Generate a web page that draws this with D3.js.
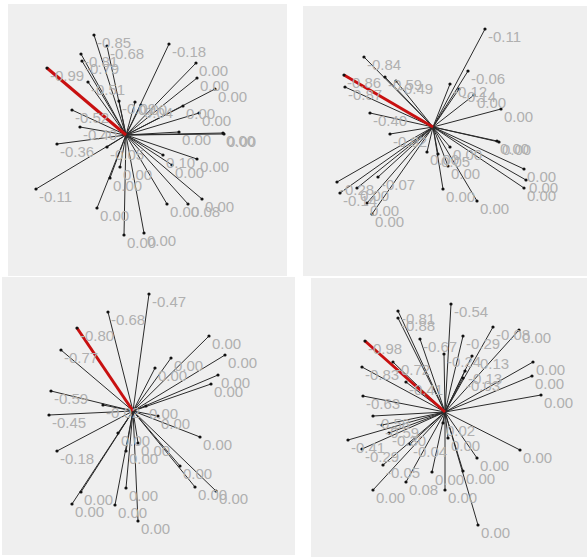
<!DOCTYPE html>
<html lang="en">
<head>
  <meta charset="utf-8">
  <title>Loading stars</title>
  <script src="https://d3js.org/d3.v7.min.js"></script>
  <style type="text/css">
    body { margin: 0; background: #fff; }
    svg text { font-family: "Liberation Sans", Arial, sans-serif; font-size: 15px; fill: #b0b0b0; }
  </style>
</head>
<body>
  <svg width="587" height="557"></svg>

  <script type="text/javascript" charset="utf-8">
    // panel 1 (top left) - first entry is the highlighted one
    var p1x = [-0.79, -0.32, -0.19, 0.43, -0.45, -0.44, -0.38, -0.54, -0.46, -0.69, -0.90, 0.70, 0.71, 0.89, 0.73, 0.57, 0.53, 0.97, 0.98, 0.76, 0.62, 0.41, 0.18, -0.02, -0.29, 0.37, 0.71, 0.46, -0.16, -0.06, 0.09, -0.07, 0.15, -0.19];
    var p1y = [0.67, 1.00, 0.89, 0.91, 0.81, 0.74, 0.53, 0.25, 0.08, -0.09, -0.54, 0.72, 0.57, 0.46, 0.22, 0.29, 0.03, 0.02, 0.01, -0.64, -0.69, -0.69, -0.98, -1.00, -0.73, -0.20, -0.24, -0.30, -0.43, -0.32, 0.33, 0.34, 0.30, -0.12];
    var p1lab = ["-0.99", "-0.85", "-0.68", "-0.18", "-0.81", "-0.79", "-0.51", "-0.52", "-0.40", "-0.36", "-0.11", "0.00", "0.00", "0.00", "0.00", "0.00", "0.00", "0.00", "0.00", "0.00", "0.08", "0.00", "0.00", "0.00", "0.00", "0.10", "0.00", "0.00", "0.00", "0.00", "0.00", "-0.09", "0.04", "-0.05"];

    // panel 2 (top right)
    var p2x = [-0.89, -0.69, -0.48, -0.37, -0.88, -0.63, -0.43, -0.96, -0.93, -0.76, -0.66, -0.61, -0.55, 0.52, 0.35, 0.17, 0.41, 0.26, 0.68, 0.64, 0.66, 0.91, 0.93, 0.91, 0.44, 0.10, 0.15, -0.06, 0.17, 0.05];
    var p2y = [0.52, 0.70, 0.50, 0.46, 0.40, 0.14, -0.07, -0.55, -0.66, -0.61, -0.76, -0.87, -0.50, 0.98, 0.56, 0.43, 0.32, 0.38, 0.18, -0.14, -0.15, -0.42, -0.53, -0.61, -0.74, -0.62, -0.39, -0.25, -0.20, -0.27];
    var p2lab = ["-0.86", "-0.84", "-0.59", "-0.49", "-0.87", "-0.40", "-0.02", "-0.28", "-0.14", "0.00", "0.00", "0.00", "-0.07", "-0.11", "-0.06", "-0.12", "0.00", "-0.14", "0.00", "0.00", "0.00", "0.00", "0.00", "0.00", "0.00", "0.00", "0.00", "0.00", "0.00", "0.05"];

    // panel 3 (bottom left)
    var p3x = [-0.56, 0.16, -0.25, -0.72, -0.82, -0.84, -0.76, -0.30, 0.76, 0.92, 0.85, 0.78, 0.38, 0.22, 0.67, 0.25, 0.13, 0.62, 0.83, 0.47, 0.05, -0.07, -0.18, -0.61, -0.52, 0.05, -0.07, -0.15];
    var p3y = [0.83, 1.17, 0.99, 0.61, 0.20, -0.04, -0.40, 0.06, 0.75, 0.56, 0.36, 0.27, 0.53, 0.43, -0.26, -0.05, 0.05, -0.76, -0.80, -0.55, -1.10, -0.77, -0.94, -0.93, -0.81, -0.32, -0.40, -0.22];
    var p3lab = ["-0.80", "-0.47", "-0.68", "-0.77", "-0.59", "-0.45", "-0.18", "-0.02", "0.00", "0.00", "0.00", "0.00", "0.00", "0.00", "0.00", "0.00", "0.00", "0.00", "0.00", "0.00", "0.00", "0.00", "0.00", "0.00", "0.00", "0.00", "0.00", "0.00"];

    // panel 4 (bottom right)
    var p4x = [-0.80, 0.06, -0.47, -0.47, -0.25, 0.48, 0.74, 0.18, 0.27, -0.01, -0.83, -0.52, -0.39, 0.88, 0.87, 0.96, 0.20, 0.18, -0.82, -0.72, -0.63, -0.97, -0.83, -0.62, -0.72, -0.39, -0.13, 0.00, 0.18, 0.33, 0.32, 0.75, -0.02, -0.35, -0.56, 0.03];
    var p4y = [0.71, 1.08, 1.01, 0.94, 0.73, 0.85, 0.82, 0.76, 0.56, 0.58, 0.45, 0.50, 0.30, 0.50, 0.36, 0.17, 0.41, 0.34, 0.16, -0.04, -0.13, -0.28, -0.37, -0.53, -0.78, -0.70, -0.60, -0.78, -0.59, -1.13, -0.46, -0.38, -0.11, -0.32, -0.21, -0.26];
    var p4lab = ["-0.98", "-0.54", "-0.81", "-0.88", "-0.67", "-0.08", "0.00", "-0.29", "-0.13", "-0.24", "-0.83", "-0.72", "-0.41", "0.00", "0.00", "0.00", "-0.13", "-0.03", "-0.63", "-0.58", "-0.59", "-0.41", "-0.29", "-0.05", "0.00", "0.08", "0.00", "0.00", "0.00", "0.00", "0.00", "0.00", "0.02", "-0.04", "-0.30", "0.00"];

    var panels = [
      { x0: 8, y0: 4, x1: 287, y1: 276, cx: 126, cy: 135, xs: p1x, ys: p1y, labs: p1lab },
      { x0: 303, y0: 6, x1: 587, y1: 276, cx: 433, cy: 127, xs: p2x, ys: p2y, labs: p2lab },
      { x0: 2, y0: 277, x1: 295, y1: 555, cx: 133, cy: 411, xs: p3x, ys: p3y, labs: p3lab },
      { x0: 311, y0: 278, x1: 587, y1: 557, cx: 445, cy: 412, xs: p4x, ys: p4y, labs: p4lab }
    ];

    var svg = d3.select("svg");

    panels.forEach(function(p) {
      var g = svg.append("g");

      g.append("rect")
        .attr("x", p.x0).attr("y", p.y0)
        .attr("width", p.x1 - p.x0).attr("height", p.y1 - p.y0)
        .attr("fill", "#efefef");

      var x = d3.scaleLinear().domain([-1, 1]).range([p.cx - 100, p.cx + 100]);
      var y = d3.scaleLinear().domain([-1, 1]).range([p.cy + 100, p.cy - 100]);

      var rows = p.xs.map(function(v, i) {
        return { x: v, y: p.ys[i], label: p.labs[i], main: i === 0 };
      });
      // highlighted ray drawn last so it sits on top
      var ordered = rows.slice(1).concat(rows.slice(0, 1));

      g.selectAll("line.ray").data(ordered).enter().append("line")
        .attr("class", "ray")
        .attr("x1", x(0)).attr("y1", y(0))
        .attr("x2", d => x(d.x)).attr("y2", d => y(d.y))
        .attr("stroke", d => d.main ? "#c81010" : "#2a2a2a")
        .attr("stroke-width", d => d.main ? 3 : 1);

      g.selectAll("circle").data(rows).enter().append("circle")
        .attr("cx", d => x(d.x)).attr("cy", d => y(d.y))
        .attr("r", 1.6)
        .attr("fill", "#111");

      g.selectAll("text").data(rows).enter().append("text")
        .attr("x", d => x(d.x) + 3)
        .attr("y", d => y(d.y) + 13)
        .text(d => d.label);
    });
  </script>
</body>
</html>
